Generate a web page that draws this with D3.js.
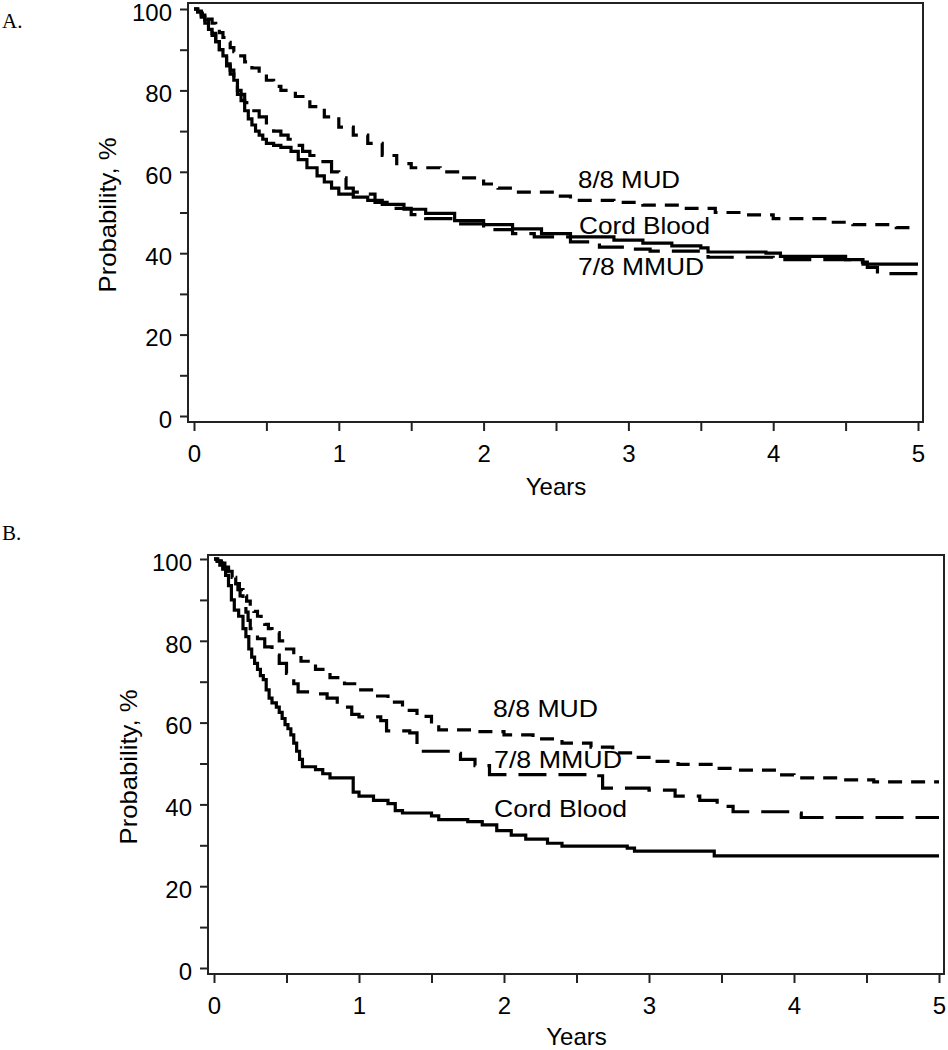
<!DOCTYPE html>
<html><head><meta charset="utf-8">
<script src="https://cdn.jsdelivr.net/npm/d3@7"></script>
<style>
body{margin:0;background:#fff;}
svg{display:block;}
text{font-family:"Liberation Sans",Arial,sans-serif;fill:#000;}
</style></head>
<body>
<svg id="chart" width="948" height="1050"></svg>
<script>
// ---------- DATA ----------
const yTicks = [0,10,20,30,40,50,60,70,80,90,100];
const yTickLabels = ["0","","20","","40","","60","","80","","100"];
const xTicks = [0,0.5,1,1.5,2,2.5,3,3.5,4,4.5,5];
const xTickLabels = ["0","","1","","2","","3","","4","","5"];
const seriesNames = ["8/8 MUD","Cord Blood","7/8 MMUD"];

// Panel A
const aMudT  = [0,0.025,0.05,0.075,0.1,0.125,0.15,0.175,0.2,0.225,0.25,0.275,0.3,0.35,0.4,0.45,0.5,0.55,0.6,0.7,0.8,0.9,1.0,1.1,1.2,1.3,1.4,1.5,1.7,1.85,2.0,2.1,2.2,2.5,2.6,2.9,3.1,3.4,3.6,3.8,4.0,4.4,4.55,4.85,5.0];
const aMudV  = [100,99.5,99,98.3,97.5,96.5,95.5,94.2,93,91.8,90.5,89.5,88.5,87,85.5,84,82.5,81,80,78.5,76,73.5,71,69,67,64,62,61,60,58.5,57,56,55,54,53,52.5,51.8,51,50,49.4,48.5,47.6,47,46.3,46.2];
const aCordT = [0,0.025,0.05,0.075,0.1,0.125,0.15,0.175,0.2,0.225,0.25,0.275,0.3,0.325,0.35,0.375,0.4,0.425,0.45,0.475,0.5,0.55,0.6,0.67,0.72,0.78,0.85,0.9,0.95,1.0,1.1,1.2,1.3,1.45,1.6,1.8,2.0,2.2,2.4,2.6,2.9,3.1,3.3,3.5,3.55,3.95,4.05,4.5,4.62,5.0];
const aCordV = [100,99.3,98,96.5,95,93.5,92,90,88.5,86.5,85,82.5,80,77.5,75,73,71.5,70,69,68,67,66.5,66,65,63,61,59,57.5,56,54.5,53.8,53,52,50.8,49.8,48,47,46,44.8,44,43.2,42.5,41.8,41.3,40.3,40,39.2,38.4,37.3,37.3];
const aMmudT = [0,0.025,0.05,0.075,0.1,0.125,0.15,0.175,0.2,0.225,0.25,0.275,0.3,0.35,0.4,0.45,0.5,0.55,0.6,0.65,0.7,0.75,0.8,0.87,0.95,1.0,1.05,1.1,1.2,1.25,1.35,1.5,1.6,1.8,2.0,2.2,2.35,2.6,2.8,3.0,3.15,3.5,3.55,4.0,4.6,4.65,4.72,5.0];
const aMmudV = [100,99.3,98.5,97.3,96,94,92,90,88,86,84,81.5,79,77,75,73.5,72,70,69,68,66.5,65,64,62.5,60,58.5,56,55,54.5,52.5,51,49.5,48.5,47.2,45.8,44.8,44,42.8,41.5,41,40.5,39.8,39,38.4,37.8,36.5,35,35];

// Panel B
const bMudT  = [0,0.025,0.05,0.075,0.1,0.125,0.15,0.175,0.2,0.225,0.25,0.275,0.3,0.325,0.35,0.375,0.4,0.45,0.5,0.55,0.6,0.7,0.8,0.9,1.0,1.1,1.2,1.3,1.4,1.5,1.55,1.8,2.0,2.2,2.4,2.6,2.75,2.9,3.0,3.2,3.45,3.6,3.9,4.0,4.3,4.55,5.0];
const bMudV  = [100,99.5,99,98,97,95.5,94,92.5,91,89.7,88.5,87.2,86,85,84,83,82,80,78,76.5,75,73,71,69.5,68,66.5,65,63,61.5,59.5,58.2,57.8,57,56,55,54,52.6,51.5,50.5,49.8,48.8,48.4,47.2,46.5,46,45.5,45.5];
const bCordT = [0,0.02,0.04,0.06,0.08,0.1,0.12,0.14,0.17,0.2,0.22,0.24,0.26,0.28,0.3,0.32,0.34,0.36,0.38,0.4,0.43,0.45,0.47,0.49,0.51,0.53,0.55,0.57,0.59,0.61,0.7,0.75,0.8,0.96,1.0,1.1,1.2,1.25,1.3,1.5,1.55,1.75,1.85,1.95,2.05,2.15,2.3,2.4,2.85,2.9,3.45,5.0];
const bCordV = [100,99.5,98.5,97.5,96,93.5,90,87.5,86,83,81,78,76,74.5,73,71.5,70.5,68,66,64.8,63.8,62.5,61,59.5,58.5,57,55,53,51,49.2,48.5,47.5,46.5,43,42,41,40.2,38.5,37.9,37.2,36.3,35.8,35,33.6,32.5,31.5,30.5,29.8,29.3,28.6,27.4,27.4];
const bMmudT = [0,0.025,0.05,0.075,0.1,0.125,0.15,0.165,0.18,0.2,0.22,0.235,0.25,0.275,0.3,0.35,0.4,0.45,0.5,0.55,0.58,0.7,0.78,0.85,0.95,1.0,1.15,1.19,1.35,1.4,1.65,1.7,1.8,1.9,2.6,2.68,3.0,3.18,3.35,3.47,3.58,3.97,4.05,5.0];
const bMmudV = [100,99.5,99,98,97,95.5,94,92.5,91,89,87,85,83,81.5,80.5,78.5,76.5,74.5,72,69.5,67.5,67,66,63.8,62,61.4,60.5,58,57.5,53,52.5,51,49.5,47.3,47,44,43.5,42,41,39.5,38.2,37.9,36.8,36.8];

// ---------- DRAW ----------
const svg = d3.select("#chart");
const zip = (t,v) => t.map((d,i)=>[d,v[i]]);
const styles = {
  "8/8 MUD":   {dash:"14,9"},
  "Cord Blood":{dash:null},
  "7/8 MMUD":  {dash:"28,12"}
};

function panel(cfg){
  const g = svg.append("g");
  const x = d3.scaleLinear().domain([0,5]).range([cfg.x0,cfg.x1]);
  const y = d3.scaleLinear().domain([0,100]).range([cfg.y0,cfg.y1]);

  // frame
  g.append("rect").attr("x",cfg.fl).attr("y",cfg.ft)
    .attr("width",cfg.fr-cfg.fl).attr("height",cfg.fb-cfg.ft)
    .attr("fill","none").attr("stroke","#222").attr("stroke-width",2);

  const yAx = g.append("g").attr("transform",`translate(${cfg.fl},0)`)
    .call(d3.axisLeft(y).tickValues(yTicks).tickSize(8).tickPadding(8)
      .tickFormat((d,i)=>yTickLabels[i]));
  yAx.select(".domain").remove();
  yAx.selectAll("line").attr("stroke","#222").attr("stroke-width",2);
  yAx.selectAll("text").attr("font-size",24).attr("dy","0.47em")
    .attr("font-family","Liberation Sans, Arial, sans-serif").attr("fill","#000");

  const xAx = g.append("g").attr("transform",`translate(0,${cfg.fb})`)
    .call(d3.axisBottom(x).tickValues(xTicks).tickSize(9).tickPadding(14)
      .tickFormat((d,i)=>xTickLabels[i]));
  xAx.select(".domain").remove();
  xAx.selectAll("line").attr("stroke","#222").attr("stroke-width",2);
  xAx.selectAll("text").attr("font-size",24).attr("font-family","Liberation Sans, Arial, sans-serif").attr("fill","#000");

  const line = d3.line().x(d=>x(d[0])).y(d=>y(d[1])).curve(d3.curveStepAfter);
  cfg.series.forEach(s=>{
    const p = g.append("path").datum(zip(s.t,s.v))
      .attr("d",line).attr("fill","none").attr("stroke","#000")
      .attr("stroke-width",3.2);
    if(styles[s.name].dash) p.attr("stroke-dasharray",styles[s.name].dash);
  });

  cfg.labels.forEach(l=>{
    g.append("text").attr("x",l.x).attr("y",l.y).attr("font-size",24)
      .attr("textLength",l.w).attr("lengthAdjust","spacingAndGlyphs").text(l.name);
  });

  g.append("text").attr("x",(cfg.x0+cfg.x1)/2).attr("y",cfg.xtY)
    .attr("text-anchor","middle").attr("font-size",24).text("Years");
  g.append("text").attr("transform",`translate(${cfg.ytX},${cfg.ytY}) rotate(-90)`)
    .attr("text-anchor","middle").attr("font-size",24)
    .attr("textLength",155).attr("lengthAdjust","spacingAndGlyphs")
    .text("Probability, %");
  g.append("text").attr("x",2).attr("y",cfg.tagY)
    .style("font-family","'Liberation Serif','Times New Roman',serif")
    .attr("font-size",21).text(cfg.tag);
}

panel({
  tag:"A.", tagY:28,
  x0:194, x1:918, y0:416, y1:9,
  fl:188, ft:3, fr:923, fb:422,
  xtY:495, ytX:116, ytY:215,
  series:[
    {name:"8/8 MUD", t:aMudT, v:aMudV},
    {name:"Cord Blood", t:aCordT, v:aCordV},
    {name:"7/8 MMUD", t:aMmudT, v:aMmudV}
  ],
  labels:[
    {name:"8/8 MUD", x:578, y:188, w:102},
    {name:"Cord Blood", x:579, y:234, w:131},
    {name:"7/8 MMUD", x:578, y:275, w:126}
  ]
});

panel({
  tag:"B.", tagY:540,
  x0:214, x1:939, y0:968, y1:559,
  fl:208, ft:555, fr:944, fb:974,
  xtY:1045, ytX:137, ytY:767,
  series:[
    {name:"8/8 MUD", t:bMudT, v:bMudV},
    {name:"Cord Blood", t:bCordT, v:bCordV},
    {name:"7/8 MMUD", t:bMmudT, v:bMmudV}
  ],
  labels:[
    {name:"8/8 MUD", x:493, y:717, w:105},
    {name:"7/8 MMUD", x:494, y:768, w:128},
    {name:"Cord Blood", x:494, y:817, w:133}
  ]
});
</script>
</body></html>
